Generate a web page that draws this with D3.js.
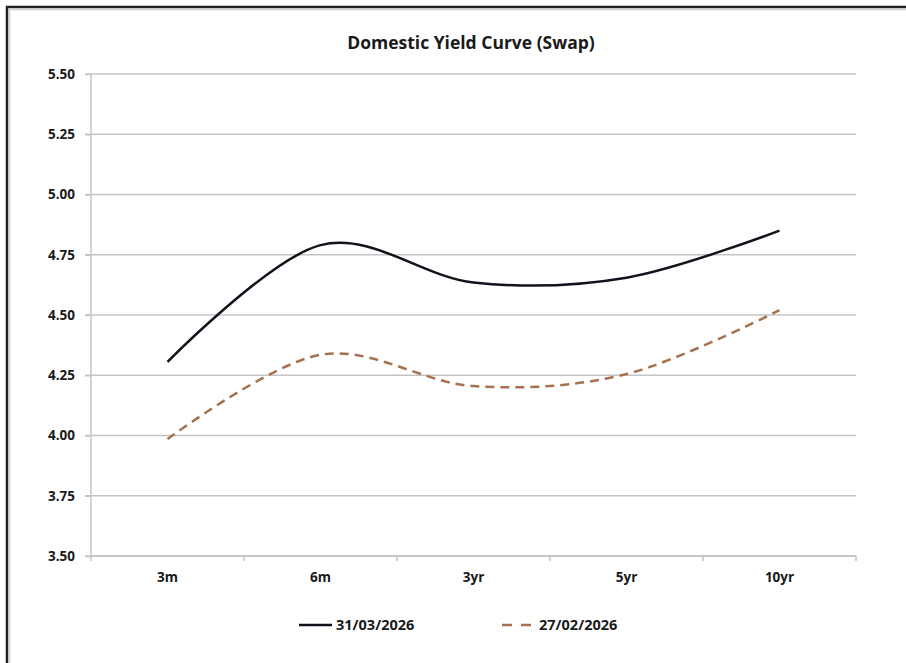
<!DOCTYPE html>
<meta charset="utf-8">
<style>
    body { margin: 0; background: #fff; }
    text { font-family: "Open Sans", "DejaVu Sans", sans-serif; fill: #1a1a1a; }
    .grid line { stroke: #c4c4c4; stroke-width: 1.5px; }
    .axis path, .axis line { stroke: #c4c4c4; stroke-width: 1.5px; }
</style>
<body>
<svg id="chart" width="906" height="663"></svg>
</body>
<script src="https://d3js.org/d3.v7.min.js"></script>
<script>

    var tenors = ["3m", "6m", "3yr", "5yr", "10yr"];
    var curveMar = [4.305, 4.79, 4.635, 4.655, 4.85];
    var curveFeb = [3.985, 4.335, 4.205, 4.255, 4.52];
    var seriesNames = ["31/03/2026", "27/02/2026"];
    var yTicks = [3.50, 3.75, 4.00, 4.25, 4.50, 4.75, 5.00, 5.25, 5.50];

    var svg = d3.select("#chart");
    var plotLeft = 91, plotRight = 856, plotTop = 74, plotBottom = 556;

    // outer frame (only top/left edges show in the shot)
    svg.append("path")
        .attr("d", "M7,663 V7 H906")
        .attr("fill", "none").attr("stroke", "#222").attr("stroke-width", 2.5);
    svg.append("path")
        .attr("d", "M9.5,663 V9.5 H906")
        .attr("fill", "none").attr("stroke", "#d0d0d0").attr("stroke-width", 1.5);

    var x = d3.scaleBand().domain(tenors).range([plotLeft, plotRight]);
    var y = d3.scaleLinear().domain([3.5, 5.5]).range([plotBottom, plotTop]);

    svg.append("text")
        .attr("x", 471).attr("y", 49)
        .attr("text-anchor", "middle")
        .style("font-size", "17.5px").style("font-weight", "bold")
        .text("Domestic Yield Curve (Swap)");

    // horizontal gridlines
    svg.append("g").attr("class", "grid")
        .selectAll("line").data(yTicks).enter().append("line")
        .attr("x1", plotLeft - 6).attr("x2", plotRight)
        .attr("y1", function (d) { return y(d); })
        .attr("y2", function (d) { return y(d); });

    // y axis
    var yAxis = svg.append("g").attr("class", "axis")
        .attr("transform", "translate(" + plotLeft + ",0)")
        .call(d3.axisLeft(y).tickValues(yTicks).tickFormat(d3.format(".2f")).tickSize(6).tickPadding(10));
    yAxis.select(".domain").attr("d", "M0," + plotTop + "V" + (plotBottom + 5));
    yAxis.selectAll("text").style("font-size", "13.5px").style("font-weight", "bold")
        .style("font-family", "'Open Sans', sans-serif").attr("fill", "#1a1a1a");

    // x axis with ticks at category boundaries
    var xg = svg.append("g").attr("class", "axis");
    xg.append("line").attr("x1", plotLeft).attr("x2", plotRight).attr("y1", plotBottom).attr("y2", plotBottom);
    xg.selectAll(".tk").data(tenors).enter().append("line")
        .attr("x1", function (d) { return x(d) + x.bandwidth(); })
        .attr("x2", function (d) { return x(d) + x.bandwidth(); })
        .attr("y1", plotBottom).attr("y2", plotBottom + 5);
    xg.selectAll("text").data(tenors).enter().append("text")
        .attr("x", function (d) { return x(d) + x.bandwidth() / 2; })
        .attr("y", plotBottom + 26)
        .attr("text-anchor", "middle")
        .style("font-size", "13.5px").style("font-weight", "bold")
        .text(function (d) { return d; });

    var line = d3.line()
        .x(function (d, i) { return x(tenors[i]) + x.bandwidth() / 2; })
        .y(function (d) { return y(d); })
        .curve(d3.curveCardinal.tension(0));

    svg.append("path").datum(curveFeb)
        .attr("d", line)
        .attr("fill", "none").attr("stroke", "#a5714e")
        .attr("stroke-width", 2.5).attr("stroke-dasharray", "9,6");

    svg.append("path").datum(curveMar)
        .attr("d", line)
        .attr("fill", "none").attr("stroke", "#12121c")
        .attr("stroke-width", 2.5);

    // legend
    var legend = [
        { name: seriesNames[0], x: 299, color: "#12121c", dash: null },
        { name: seriesNames[1], x: 502, color: "#a5714e", dash: "10,9" }
    ];
    var lg = svg.append("g").selectAll("g").data(legend).enter().append("g")
        .attr("transform", function (d) { return "translate(" + d.x + ",625)"; });
    lg.append("line")
        .attr("x1", 0).attr("x2", 33).attr("y1", 0).attr("y2", 0)
        .attr("stroke", function (d) { return d.color; })
        .attr("stroke-width", 2.5)
        .attr("stroke-dasharray", function (d) { return d.dash; });
    lg.append("text")
        .attr("x", 37).attr("y", 5)
        .style("font-size", "14.5px").style("font-weight", "bold")
        .text(function (d) { return d.name; });

</script>
